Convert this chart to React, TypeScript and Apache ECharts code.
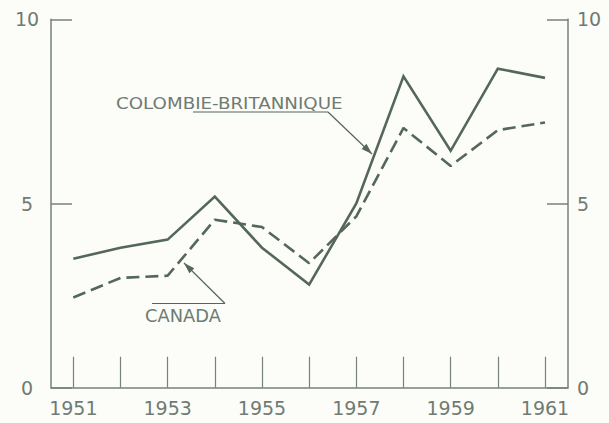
import React, { useEffect, useRef } from "react";
import * as echarts from "echarts";

const years = [1951, 1952, 1953, 1954, 1955, 1956, 1957, 1958, 1959, 1960, 1961];
const bcValues = [3.5, 3.8, 4.02, 5.19, 3.8, 2.8, 5.0, 8.45, 6.43, 8.66, 8.41];
const canadaValues = [2.45, 2.98, 3.04, 4.56, 4.36, 3.38, 4.65, 7.05, 6.02, 6.99, 7.2];
const xLabelYears = [1951, 1953, 1955, 1957, 1959, 1961];
const yTicks = [0, 5, 10];

const LINE = "#55665a";
const AXIS = "#76827a";
const TEXT = "#6f7b72";
const BG = "#fcfdf8";
const FONT = "DejaVu Sans";

function arrowHead(sx: number, sy: number, tx: number, ty: number, len: number, half: number) {
  const dx = tx - sx;
  const dy = ty - sy;
  const d = Math.sqrt(dx * dx + dy * dy);
  const ux = dx / d;
  const uy = dy / d;
  const bx = tx - ux * len;
  const by = ty - uy * len;
  return [
    [tx, ty],
    [bx - uy * half, by + ux * half],
    [bx + uy * half, by - ux * half],
  ];
}

export default function App() {
  const ref = useRef<HTMLDivElement>(null);
  useEffect(() => {
    if (!ref.current) return;
    const chart = echarts.init(ref.current, undefined, { renderer: "svg" });
    const yAxisBase = {
      type: "value",
      min: 0,
      max: 10,
      interval: 5,
      splitLine: { show: false },
      axisLine: { show: true, lineStyle: { color: AXIS, width: 1.5 } },
      axisTick: { show: true, inside: true, length: 21, lineStyle: { color: AXIS, width: 1.5 } },
    };
    chart.setOption({
      animation: false,
      backgroundColor: BG,
      grid: { left: 51, right: 41, top: 19.3, bottom: 35.3, containLabel: false },
      xAxis: {
        type: "value",
        min: 1950.527,
        max: 1961.488,
        splitLine: { show: false },
        axisLine: { show: true, onZero: false, lineStyle: { color: AXIS, width: 1.5 } },
        axisTick: {
          show: true,
          inside: true,
          length: 31,
          customValues: years,
          lineStyle: { color: AXIS, width: 1.2 },
        },
        axisLabel: {
          customValues: xLabelYears,
          formatter: (v: number) => String(v),
          color: TEXT,
          fontFamily: FONT,
          fontSize: 19,
          margin: 11,
        },
      },
      yAxis: [
        {
          ...yAxisBase,
          position: "left",
          axisLabel: {
            color: TEXT,
            fontFamily: FONT,
            fontSize: 19,
            align: "center",
            margin: 24,
            formatter: (v: number) => (yTicks.includes(v) ? String(v) : ""),
          },
        },
        {
          ...yAxisBase,
          position: "right",
          axisLabel: {
            color: TEXT,
            fontFamily: FONT,
            fontSize: 19,
            align: "left",
            margin: 9,
            formatter: (v: number) => (yTicks.includes(v) ? String(v) : ""),
          },
        },
      ],
      series: [
        {
          name: "COLOMBIE-BRITANNIQUE",
          type: "line",
          yAxisIndex: 0,
          data: years.map((y, i) => [y, bcValues[i]]),
          symbol: "none",
          lineStyle: { color: LINE, width: 2.6, join: "miter" },
        },
        {
          name: "CANADA",
          type: "line",
          yAxisIndex: 0,
          data: years.map((y, i) => [y, canadaValues[i]]),
          symbol: "none",
          lineStyle: { color: LINE, width: 2.6, type: [13, 6] },
        },
      ],
      graphic: [
        {
          type: "text",
          x: 116,
          y: 95,
          scaleX: 1.14,
          style: { text: "COLOMBIE-BRITANNIQUE", fill: TEXT, font: `16px "${FONT}"`, verticalAlign: "top" },
        },
        { type: "line", shape: { x1: 193, y1: 112, x2: 328, y2: 112 }, style: { stroke: LINE, lineWidth: 1.2 } },
        { type: "line", shape: { x1: 328, y1: 112, x2: 372, y2: 154 }, style: { stroke: LINE, lineWidth: 1.2 } },
        { type: "polygon", shape: { points: arrowHead(328, 112, 372, 154, 11, 3.5) }, style: { fill: LINE } },
        {
          type: "text",
          x: 145,
          y: 308,
          scaleX: 1.05,
          style: { text: "CANADA", fill: TEXT, font: `17px "${FONT}"`, verticalAlign: "top" },
        },
        { type: "line", shape: { x1: 152, y1: 303.5, x2: 225, y2: 303.5 }, style: { stroke: LINE, lineWidth: 1.2 } },
        { type: "line", shape: { x1: 225, y1: 303.5, x2: 184, y2: 263 }, style: { stroke: LINE, lineWidth: 1.2 } },
        { type: "polygon", shape: { points: arrowHead(225, 303.5, 184, 263, 11, 3.5) }, style: { fill: LINE } },
      ],
    });
    return () => chart.dispose();
  }, []);
  return (
    <div
      ref={ref}
      style={{ position: "absolute", left: 0, top: 0, width: 609, height: 423, background: BG }}
    />
  );
}
